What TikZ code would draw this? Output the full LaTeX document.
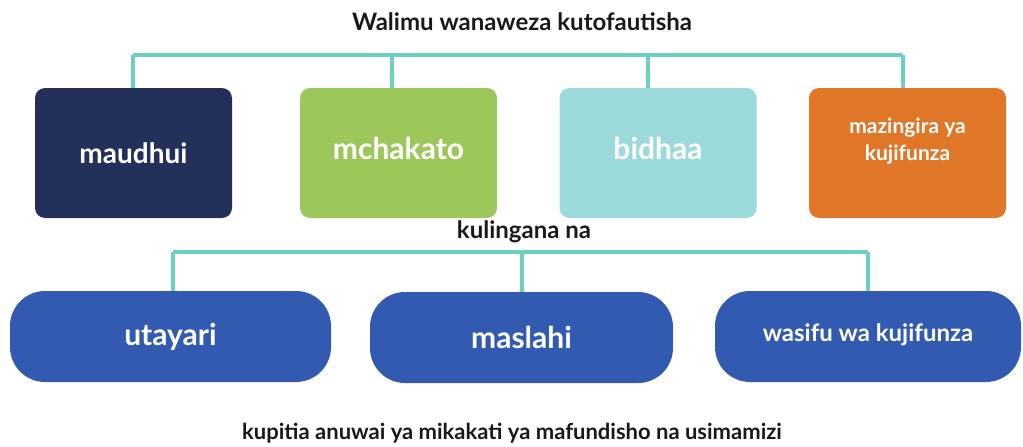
\documentclass[tikz,border=0pt]{standalone}
\usepackage{fontspec}
\setmainfont{Lato}
\usepackage{tikz}

\definecolor{navy}{HTML}{22305A}
\definecolor{leaf}{HTML}{9DC75A}
\definecolor{aqua}{HTML}{9CD9DB}
\definecolor{rust}{HTML}{E07628}
\definecolor{royal}{HTML}{315AB0}
\definecolor{teal}{HTML}{6CCFBF}

\begin{document}
\begin{tikzpicture}
  [x=1pt,y=-1pt,
   card/.style={rounded corners=10pt, minimum width=197pt, minimum height=130pt, inner sep=0pt,
     text=white, font=\bfseries\fontsize{30}{34}\selectfont},
   pill/.style={fill=royal, rounded corners=35pt, minimum height=91pt, inner sep=0pt,
     text=white, font=\bfseries\fontsize{30}{34}\selectfont},
   caption/.style={font=\bfseries\fontsize{24}{28}\selectfont, text=black!90},
   link/.style={draw=teal, line width=3.4pt}]
  \useasboundingbox (0,0) rectangle (1023,447);

  \node[caption] (walimu) at (522,22) {Walimu wanaweza kutofautisha};
  \node[caption] (kulingana) at (524,232) {kulingana na};
  \node[caption, font=\bfseries\fontsize{22}{26}\selectfont] (kupitia) at (512,433)
    {kupitia anuwai ya mikakati ya mafundisho na usimamizi};

  \node[card, fill=navy, font=\bfseries\fontsize{28}{32}\selectfont] (maudhui) at (133.5,153) {maudhui};
   \node[card, fill=leaf, text depth=10pt] (mchakato) at (398.5,153) {mchakato};
   \node[card, fill=aqua, text depth=10pt] (bidhaa) at (658,153) {bidhaa};
   \node[card, fill=rust, align=center, text depth=28pt, font=\bfseries\fontsize{21}{27}\selectfont]
     (mazingira) at (907.5,153) {mazingira ya\\kujifunza};

  \node[pill, minimum width=321pt] (utayari) at (170.5,336.5) {utayari};
   \node[pill, minimum width=303pt] (maslahi) at (521.5,337.5) {maslahi};
   \node[pill, minimum width=306pt, font=\bfseries\fontsize{24}{28}\selectfont, text depth=8pt]
     (wasifu) at (868,336.5) {wasifu wa kujifunza};

  \coordinate (t1) at (133,55);
  \coordinate (t2) at (392,55);
  \coordinate (t3) at (648,55);
  \coordinate (t4) at (903,55);
  \coordinate (b1) at (173,252);
  \coordinate (b2) at (522,252);
  \coordinate (b3) at (868,252);

  \draw[link] (t1) -- (t4);
  \draw[link] (b1) -- (b3);
  \foreach \from/\to in {t1/maudhui, t2/mchakato, t3/bidhaa, t4/mazingira,
  b1/utayari, b2/maslahi, b3/wasifu}
      \draw[link] (\from) -- (\from |- \to.north);
\end{tikzpicture}
\end{document}
